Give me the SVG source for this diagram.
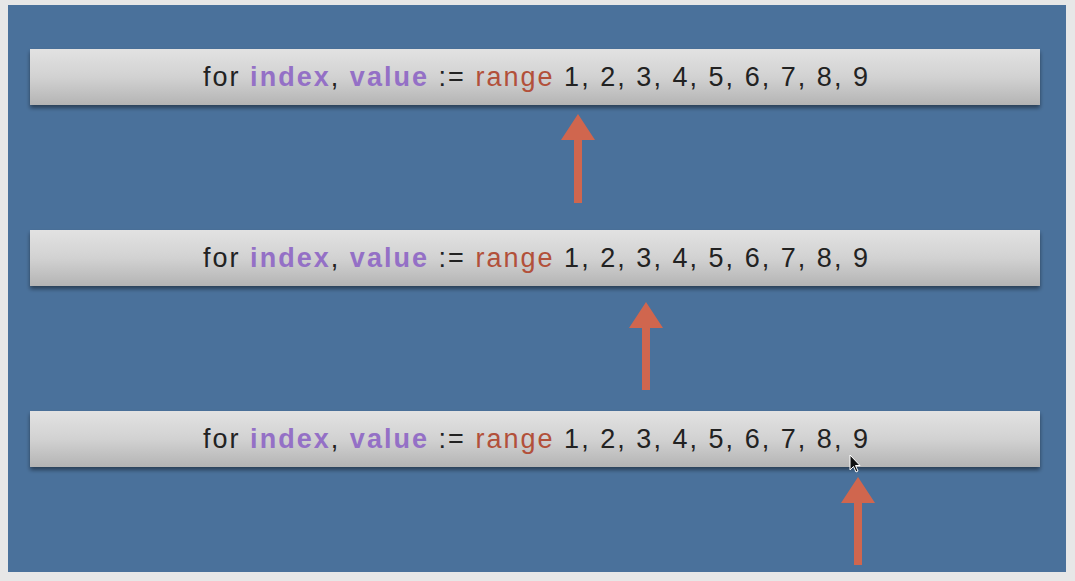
<svg xmlns="http://www.w3.org/2000/svg" width="1075" height="581" viewBox="0 0 1075 581">
<defs>
<linearGradient id="bar" x1="0" y1="0" x2="0" y2="1">
<stop offset="0" stop-color="#e2e2e2"/>
<stop offset="0.5" stop-color="#d2d2d2"/>
<stop offset="1" stop-color="#b4b4b4"/>
</linearGradient>
<filter id="sh" x="-5%" y="-20%" width="110%" height="160%">
<feGaussianBlur in="SourceAlpha" stdDeviation="2"/>
<feOffset dy="3"/>
<feComponentTransfer><feFuncA type="linear" slope="0.45"/></feComponentTransfer>
<feMerge><feMergeNode/><feMergeNode in="SourceGraphic"/></feMerge>
</filter>
</defs>
<style>
.bar{fill:url(#bar);filter:url(#sh)}
.t{font-family:"Liberation Sans",Arial,sans-serif;font-size:27px;fill:#222}
.k{fill:#9470c6;font-weight:bold}
.r{fill:#b2503a}
.arr{fill:#d0664e}
</style>
<rect width="1075" height="581" fill="#e7e7e7"/>
<rect x="8" y="5" width="1058" height="567" fill="#4a719b"/>
<g id="line1">
<rect class="bar" x="30" y="49" width="1010" height="56"/>
<text class="t" x="203" y="86" textLength="665" lengthAdjust="spacing">for <tspan class="k">index</tspan>, <tspan class="k">value</tspan> := <tspan class="r">range</tspan> 1, 2, 3, 4, 5, 6, 7, 8, 9</text>
</g>
<g id="line2">
<rect class="bar" x="30" y="230" width="1010" height="56"/>
<text class="t" x="203" y="267" textLength="665" lengthAdjust="spacing">for <tspan class="k">index</tspan>, <tspan class="k">value</tspan> := <tspan class="r">range</tspan> 1, 2, 3, 4, 5, 6, 7, 8, 9</text>
</g>
<g id="line3">
<rect class="bar" x="30" y="411" width="1010" height="56"/>
<text class="t" x="203" y="448" textLength="665" lengthAdjust="spacing">for <tspan class="k">index</tspan>, <tspan class="k">value</tspan> := <tspan class="r">range</tspan> 1, 2, 3, 4, 5, 6, 7, 8, 9</text>
</g>
<g id="connectors">
<path class="arr" d="M578 114 L595 140 L582 140 L582 203 L574 203 L574 140 L561 140 Z"/>
<path class="arr" d="M646 302 L663 328 L650 328 L650 390 L642 390 L642 328 L629 328 Z"/>
<path class="arr" d="M858 477 L875 503 L862 503 L862 565 L854 565 L854 503 L841 503 Z"/>
</g>
<g id="cursor">
<path d="M850 455 L850 470 L853.5 466.5 L856 472 L858 471 L855.5 465.5 L860 465.5 Z" fill="#111" stroke="#fff" stroke-width="1"/>
</g>
</svg>
